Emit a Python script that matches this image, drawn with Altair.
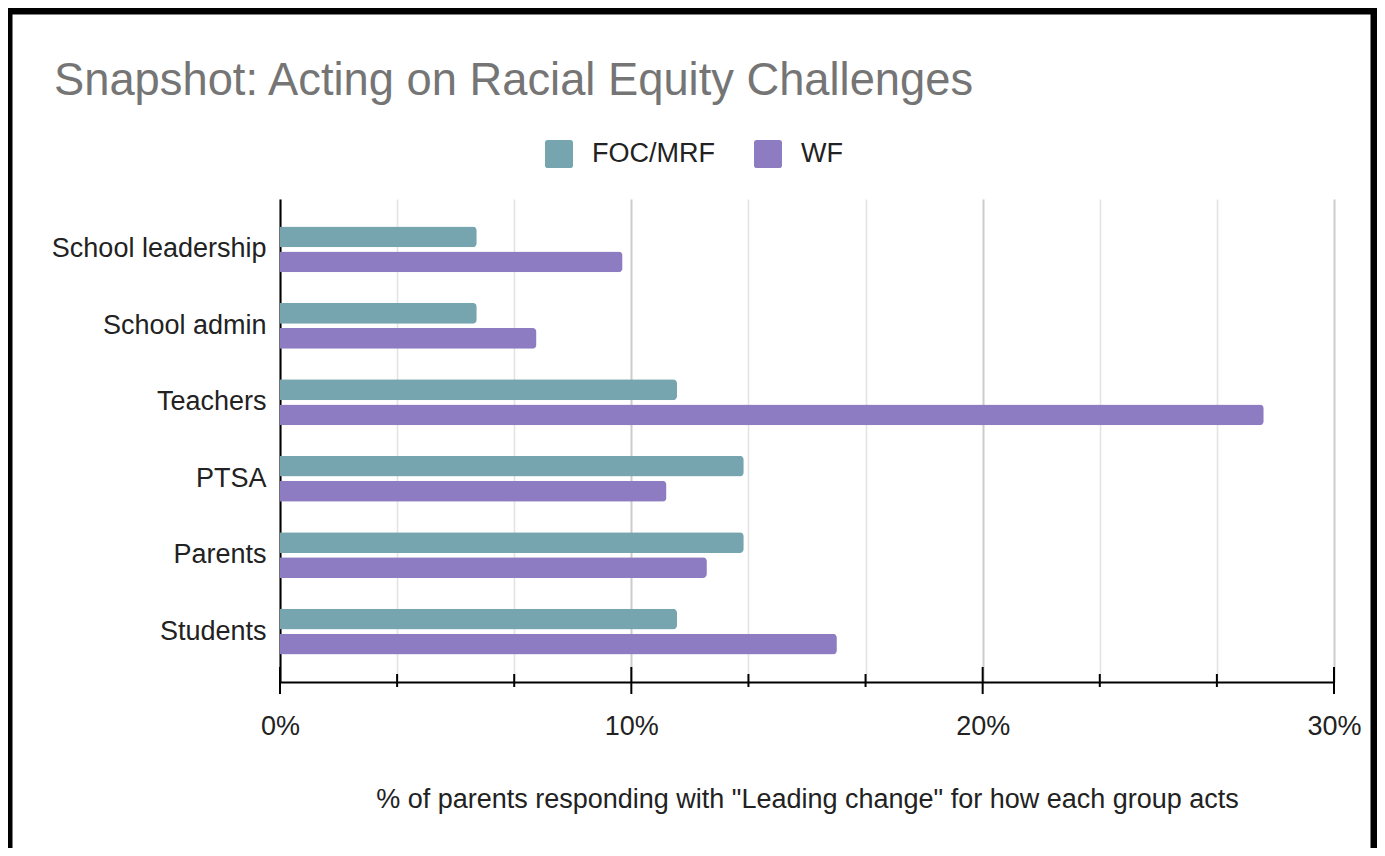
import altair as alt
import pandas as pd

categories = ["School leadership", "School admin", "Teachers", "PTSA", "Parents", "Students"]
series = ["FOC/MRF", "WF"]
foc_values = [5.6, 5.6, 11.3, 13.2, 13.2, 11.3]
wf_values = [9.75, 7.3, 28.0, 11.0, 12.15, 15.85]
colors = ["#76A5AF", "#8E7CC3"]
grid_values = [0, 3.3333, 6.6667, 10, 13.3333, 16.6667, 20, 23.3333, 26.6667, 30]
major_ticks = [0, 10, 20, 30]
minor_ticks = [3.3333, 6.6667, 13.3333, 16.6667, 23.3333, 26.6667]
title_text = "Snapshot: Acting on Racial Equity Challenges"
x_title = '% of parents responding with "Leading change" for how each group acts'

rows = []
for c, f, w in zip(categories, foc_values, wf_values):
    rows.append({"group": c, "series": series[0], "value": f})
    rows.append({"group": c, "series": series[1], "value": w})
df = pd.DataFrame(rows)

W, H = 1054, 483
FONT = "Liberation Sans"
FS = 27
is_major = "abs(datum.value - round(datum.value / 10) * 10) < 0.01"

x_scale = alt.Scale(domain=[0, 30], nice=False, zero=True)

x_axis = alt.Axis(
    values=grid_values,
    labelExpr=f"{is_major} ? round(datum.value) + '%' : ''",
    labelFlush=False,
    labelOverlap=False,
    labelFontSize=FS,
    labelColor="#222222",
    labelBaseline="alphabetic",
    labelPadding=52,
    ticks=False,
    tickSize=0,
    domainColor="#000000",
    domainWidth=2,
    grid=True,
    gridColor={"condition": {"test": is_major, "value": "#cccccc"}, "value": "#e3e3e3"},
    gridWidth={"condition": {"test": is_major, "value": 2}, "value": 1.6},
    titleFontSize=FS,
    titleFontWeight="normal",
    titleColor="#222222",
    titleBaseline="alphabetic",
    titleY=125,
)

rounded_square = ("M-0.8,-1 L0.8,-1 Q1,-1 1,-0.8 L1,0.8 Q1,1 0.8,1 L-0.8,1 "
                  "Q-1,1 -1,0.8 L-1,-0.8 Q-1,-1 -0.8,-1 Z")

bars = alt.Chart(df).mark_bar(cornerRadiusEnd=4).encode(
    x=alt.X("value:Q", scale=x_scale, title=x_title, axis=x_axis),
    y=alt.Y(
        "group:N",
        sort=categories,
        title=None,
        scale=alt.Scale(paddingInner=0.4, paddingOuter=0.36),
        axis=alt.Axis(
            labelFontSize=FS,
            labelColor="#222222",
            labelPadding=14,
            labelLimit=500,
            ticks=False,
            tickSize=0,
            domainColor="#000000",
            domainWidth=2,
            grid=False,
        ),
    ),
    yOffset=alt.YOffset("series:N", sort=series, scale=alt.Scale(paddingInner=0.17, paddingOuter=0)),
    color=alt.Color(
        "series:N",
        sort=series,
        scale=alt.Scale(domain=series, range=colors),
        legend=alt.Legend(
            orient="none",
            legendX=265,
            legendY=-59,
            direction="horizontal",
            title=None,
            labelFontSize=FS,
            labelColor="#222222",
            symbolType=rounded_square,
            symbolSize=784,
            symbolStrokeWidth=0,
            labelOffset=19,
            columnPadding=39,
            padding=0,
        ),
    ),
)

major_rules = alt.Chart(pd.DataFrame({"value": major_ticks})).mark_rule(
    color="#000000", strokeWidth=2
).encode(
    x=alt.X("value:Q", scale=x_scale, title=x_title, axis=x_axis),
    y=alt.value(H - 15),
    y2=alt.value(H + 12),
)

minor_rules = alt.Chart(pd.DataFrame({"value": minor_ticks})).mark_rule(
    color="#000000", strokeWidth=2
).encode(
    x=alt.X("value:Q", scale=x_scale, title=x_title, axis=x_axis),
    y=alt.value(H - 8),
    y2=alt.value(H + 5),
)

frame = alt.Chart(pd.DataFrame({"a": [0]})).mark_rect(
    fill="#ffffff", fillOpacity=0, stroke="#000000", strokeWidth=7
).encode(
    x=alt.value(-271),
    x2=alt.value(1094),
    y=alt.value(-188),
    y2=alt.value(700),
)

chart = alt.layer(frame, bars, major_rules, minor_rules).properties(
    width=W,
    height=H,
    padding={"left": 272, "top": 191, "right": 43, "bottom": 166},
    autosize=alt.AutoSizeParams(type="none"),
    title=alt.TitleParams(
        text=title_text,
        anchor="start",
        frame="group",
        dx=-226,
        dy=137,
        fontSize=45.3,
        fontWeight="normal",
        color="#757575",
        font=FONT,
        baseline="alphabetic",
    ),
).configure(font=FONT).configure_view(strokeWidth=0)

chart.save("out.html", embed_options={"renderer": "svg", "actions": False})
